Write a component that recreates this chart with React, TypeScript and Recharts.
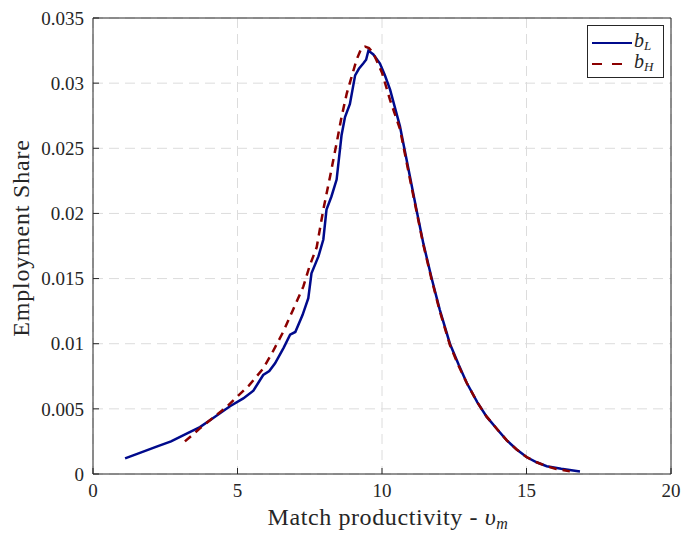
import React from 'react';
import {
    LineChart,
    Line,
    XAxis,
    YAxis,
    CartesianGrid,
} from 'recharts';

// b_L (solid blue)
const lowX = [1.11, 1.6, 2.2, 2.7, 3.24, 3.7, 4.16, 4.74, 5.2, 5.55, 5.89, 6.1, 6.3, 6.6, 6.82, 7.0, 7.25, 7.45, 7.56, 7.8, 7.97, 8.08, 8.25, 8.43, 8.6, 8.72, 8.89, 9.07, 9.2, 9.35, 9.45, 9.53, 9.7, 9.93, 10.1, 10.28, 10.62, 10.97, 11.2, 11.43, 11.72, 12.0, 12.35, 12.65, 12.93, 13.3, 13.62, 14.0, 14.31, 14.65, 15.0, 15.35, 15.7, 16.2, 16.85];
const lowY = [0.0012, 0.0016, 0.0021, 0.0025, 0.0031, 0.0036, 0.0043, 0.0052, 0.0058, 0.0064, 0.0076, 0.0079, 0.0085, 0.0097, 0.0107, 0.0109, 0.0122, 0.0135, 0.0154, 0.0167, 0.018, 0.0203, 0.0213, 0.0226, 0.026, 0.0274, 0.0284, 0.0306, 0.0311, 0.0315, 0.0318, 0.0325, 0.0322, 0.0315, 0.0306, 0.0295, 0.0267, 0.0228, 0.0202, 0.0177, 0.015, 0.0126, 0.01, 0.0084, 0.007, 0.0055, 0.0044, 0.0034, 0.0026, 0.0019, 0.0013, 0.0009, 0.0006, 0.0004, 0.0002];

// b_H (dashed red)
const highX = [3.18, 3.7, 4.2, 4.6, 4.97, 5.4, 5.89, 6.2, 6.58, 6.9, 7.28, 7.5, 7.74, 7.97, 8.2, 8.43, 8.6, 8.78, 8.95, 9.12, 9.29, 9.41, 9.55, 9.7, 10.0, 10.28, 10.62, 10.97, 11.43, 11.72, 12.0, 12.35, 12.65, 12.93, 13.3, 13.62, 14.0, 14.31, 14.65, 15.0, 15.35, 15.7, 16.0, 16.5];
const highY = [0.0025, 0.0035, 0.0044, 0.0051, 0.0059, 0.0068, 0.0081, 0.0093, 0.0109, 0.0125, 0.0144, 0.016, 0.0174, 0.0203, 0.0228, 0.0254, 0.0274, 0.0292, 0.0305, 0.0318, 0.0327, 0.0328, 0.0327, 0.0323, 0.0308, 0.0287, 0.0265, 0.0226, 0.0176, 0.0149, 0.0125, 0.0099, 0.0083, 0.007, 0.0055, 0.0044, 0.0034, 0.0026, 0.0019, 0.0013, 0.0009, 0.0006, 0.0004, 0.0002];

const xTicks = [0, 5, 10, 15, 20];
const yTicks = [0, 0.005, 0.01, 0.015, 0.02, 0.025, 0.03, 0.035];

const lowData = lowX.map((x, i) => ({ x, y: lowY[i] }));
const highData = highX.map((x, i) => ({ x, y: highY[i] }));

const FONT = '"Liberation Serif", "DejaVu Serif", serif';
const AXIS = '#262626';
const BLUE = '#000a8c';
const RED = '#8b0000';

const fmtY = (v: number) => (v === 0 ? '0' : String(Number(v.toFixed(3))));

function XTitle() {
    return (
        <text x={388} y={525} textAnchor="middle" fontFamily={FONT} fontSize={24} letterSpacing={0.6} fill={AXIS}>
            <tspan>Match productivity - </tspan>
            <tspan fontStyle="italic">υ</tspan>
            <tspan fontStyle="italic" fontSize={16} dy={4}>m</tspan>
        </text>
    );
}

function YTitle() {
    const cx = 29;
    const cy = 238;
    return (
        <text
            x={cx}
            y={cy}
            transform={`rotate(-90, ${cx}, ${cy})`}
            textAnchor="middle"
            fontFamily={FONT}
            fontSize={24}
            letterSpacing={0.8}
            fill={AXIS}
        >
            Employment Share
        </text>
    );
}

function LegendBox() {
    const row = (color: string, dash: string | undefined, sub: string) => (
        <div style={{ display: 'flex', alignItems: 'center', height: 21 }}>
            <svg width={40} height={10}>
                <line x1={0} y1={5} x2={40} y2={5} stroke={color} strokeWidth={2} strokeDasharray={dash} />
            </svg>
            <span style={{ fontFamily: FONT, fontStyle: 'italic', fontSize: 20, marginLeft: 2, color: AXIS, lineHeight: '20px' }}>
                b<sub style={{ fontSize: 13, verticalAlign: '-3px' }}>{sub}</sub>
            </span>
        </div>
    );
    return (
        <div
            style={{
                position: 'absolute',
                left: 587,
                top: 25,
                width: 77,
                height: 53,
                boxSizing: 'border-box',
                border: `1px solid ${AXIS}`,
                background: 'white',
                padding: '6px 0 0 4px',
            }}
        >
            {row(BLUE, undefined, 'L')}
            {row(RED, '10 10', 'H')}
        </div>
    );
}

export default function App() {
    return (
        <div style={{ position: 'absolute', left: 0, top: 0, width: 684, height: 536, background: 'white' }}>
            <LineChart width={684} height={536} margin={{ top: 0, right: 0, left: 0, bottom: 0 }}>
                <CartesianGrid xAxisId="bottom" yAxisId="left" stroke="#dcdcdc" strokeDasharray="10 6" />
                <XAxis
                    xAxisId="bottom"
                    dataKey="x"
                    type="number"
                    domain={[0, 20]}
                    ticks={xTicks}
                    allowDataOverflow
                    height={62}
                    stroke={AXIS}
                    tickSize={-6}
                    tickMargin={16}
                    tick={{ fontFamily: FONT, fontSize: 19, fill: AXIS }}
                    label={<XTitle />}
                />
                <XAxis
                    xAxisId="top"
                    orientation="top"
                    dataKey="x"
                    type="number"
                    domain={[0, 20]}
                    ticks={xTicks}
                    height={18}
                    stroke={AXIS}
                    tickSize={-6}
                    tickFormatter={() => ''}
                />
                <YAxis
                    yAxisId="left"
                    type="number"
                    domain={[0, 0.035]}
                    ticks={yTicks}
                    width={93}
                    stroke={AXIS}
                    tickSize={-6}
                    tickMargin={15}
                    tickFormatter={fmtY}
                    tick={{ fontFamily: FONT, fontSize: 19, fill: AXIS }}
                    label={<YTitle />}
                />
                <YAxis
                    yAxisId="right"
                    orientation="right"
                    type="number"
                    domain={[0, 0.035]}
                    ticks={yTicks}
                    width={13}
                    stroke={AXIS}
                    tickSize={-6}
                    tickFormatter={() => ''}
                />
                <Line
                    xAxisId="bottom"
                    yAxisId="left"
                    data={lowData}
                    dataKey="y"
                    type="linear"
                    stroke={BLUE}
                    strokeWidth={2.5}
                    dot={false}
                    isAnimationActive={false}
                />
                <Line
                    xAxisId="bottom"
                    yAxisId="left"
                    data={highData}
                    dataKey="y"
                    type="linear"
                    stroke={RED}
                    strokeWidth={2.5}
                    strokeDasharray="8 6"
                    dot={false}
                    isAnimationActive={false}
                />
            </LineChart>
            <LegendBox />
        </div>
    );
}
